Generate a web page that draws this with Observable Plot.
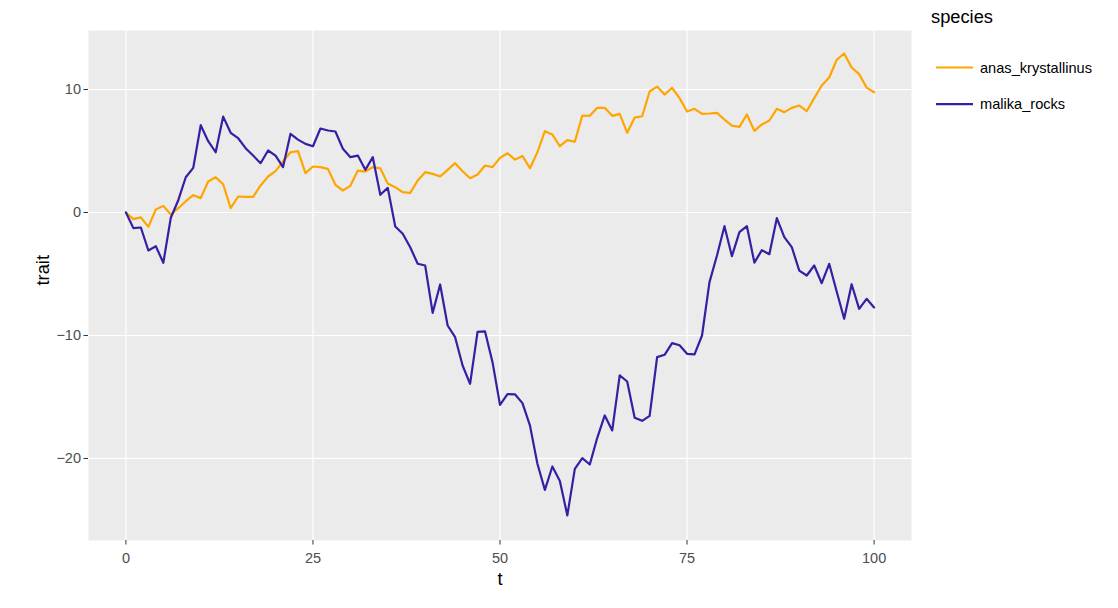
<!DOCTYPE html>
<html>
<head>
<meta charset="utf-8">
<script src="https://cdn.jsdelivr.net/npm/d3@7"></script>
<script src="https://cdn.jsdelivr.net/npm/@observablehq/plot@0.6"></script>
<style>
  html, body { margin: 0; padding: 0; background: #fff; }
  #wrap { position: relative; width: 1118px; height: 608px; font-family: "Liberation Sans", Arial, sans-serif; }
  #chart { position: absolute; left: 0; top: 0; }
  #legend { position: absolute; left: 918px; top: 0; }
</style>
</head>
<body>
<div id="wrap"><div id="chart"></div><svg id="legend" width="200" height="130"></svg></div>
<script>
const species = ["anas_krystallinus", "malika_rocks"];
const colors = ["#FFA500", "#371EA3"];
const xTicks = [0, 25, 50, 75, 100];
const yTicks = [-20, -10, 0, 10];

const anas_krystallinus = [
  0, -0.54, -0.4, -1.17, 0.24, 0.54, -0.16, 0.35, 0.92, 1.41,
  1.17, 2.52, 2.87, 2.3, 0.35, 1.3, 1.27, 1.27, 2.2, 2.93,
  3.36, 4.15, 4.9, 4.99, 3.2, 3.74, 3.69, 3.55, 2.25, 1.79,
  2.17, 3.41, 3.33, 3.69, 3.6, 2.35, 2.06, 1.65, 1.6, 2.6,
  3.28, 3.14, 2.93, 3.47, 4.01, 3.36, 2.79, 3.09, 3.82, 3.69,
  4.44, 4.82, 4.3, 4.6, 3.6, 4.9, 6.61, 6.34, 5.39, 5.88,
  5.75, 7.89, 7.86, 8.51, 8.51, 7.86, 8.02, 6.48, 7.72, 7.83,
  9.84, 10.24, 9.59, 10.14, 9.3, 8.21, 8.43, 8.02, 8.05, 8.1,
  7.56, 7.07, 6.96, 7.97, 6.64, 7.16, 7.48, 8.43, 8.16, 8.51,
  8.7, 8.24, 9.3, 10.33, 10.98, 12.41, 12.93, 11.79, 11.25, 10.16,
  9.78
];
const malika_rocks = [
  0, -1.27, -1.22, -3.09, -2.74, -4.09, -0.43, 1.0, 2.87, 3.63,
  7.1, 5.8, 4.9, 7.8, 6.48, 6.04, 5.23, 4.63, 4.01, 5.04,
  4.63, 3.69, 6.4, 5.93, 5.58, 5.39, 6.83, 6.67, 6.59, 5.18,
  4.5, 4.63, 3.47, 4.5, 1.44, 2.0, -1.14, -1.73, -2.82, -4.17,
  -4.31, -8.16, -5.85, -9.19, -10.14, -12.44, -13.93, -9.7, -9.67, -12.17,
  -15.64, -14.77, -14.78, -15.5, -17.31, -20.43, -22.55, -20.65, -21.84, -24.63,
  -20.84, -19.97, -20.49, -18.32, -16.5, -17.72, -13.25, -13.74, -16.69, -16.94,
  -16.53, -11.76, -11.57, -10.62, -10.79, -11.49, -11.54, -10.0, -5.66, -3.5,
  -1.11, -3.55, -1.6, -1.11, -4.07, -3.06, -3.39, -0.46, -2.0, -2.82,
  -4.72, -5.12, -4.31, -5.75, -4.17, -6.42, -8.64, -5.83, -7.83, -7.02,
  -7.72
];
const series = {anas_krystallinus, malika_rocks};
const data = species.flatMap(s => series[s].map((v, i) => ({t: i, trait: v, species: s})));

const font = "'Liberation Sans', Arial, sans-serif";
const chart = Plot.plot({
  width: 918,
  height: 608,
  marginLeft: 88,
  marginRight: 7,
  marginTop: 30,
  marginBottom: 68,
  style: {fontFamily: font, background: "transparent"},
  x: {domain: [-5, 105], label: null},
  y: {domain: [-26.67, 14.8], label: null},
  color: {domain: species, range: colors},
  marks: [
    Plot.frame({fill: "#EBEBEB", stroke: null}),
    Plot.gridX(xTicks, {stroke: "#FFFFFF", strokeOpacity: 1, strokeWidth: 1.2}),
    Plot.gridY(yTicks, {stroke: "#FFFFFF", strokeOpacity: 1, strokeWidth: 1.2}),
    Plot.axisX(xTicks, {tickSize: 4.5, tickPadding: 7.5, fontSize: 14.5, stroke: "#333333", fill: "#4D4D4D", label: null}),
    Plot.axisY(yTicks, {tickSize: 4.5, tickPadding: 3, fontSize: 14.5, stroke: "#333333", fill: "#4D4D4D", label: null}),
    Plot.text(["t"], {frameAnchor: "bottom", dy: 44, fontSize: 18.3, fill: "#000"}),
    Plot.text(["trait"], {frameAnchor: "left", dx: -45, rotate: -90, fontSize: 18.3, fill: "#000"}),
    Plot.line(data, {x: "t", y: "trait", z: "species", stroke: "species", strokeWidth: 2.2, strokeLinejoin: "round"})
  ]
});
document.getElementById("chart").appendChild(chart);

// legend
const lg = d3.select("#legend");
lg.append("text").attr("x", 13).attr("y", 23).attr("font-family", font).attr("font-size", 18.3).attr("fill", "#000").text("species");
species.forEach((s, i) => {
  const cy = 67.5 + i * 36.7;
  lg.append("line").attr("x1", 18).attr("x2", 55).attr("y1", cy).attr("y2", cy)
    .attr("stroke", colors[i]).attr("stroke-width", 2.2);
  lg.append("text").attr("x", 62).attr("y", cy + 5).attr("font-family", font)
    .attr("font-size", 14.6).attr("fill", "#000").text(s);
});
</script>
</body>
</html>
